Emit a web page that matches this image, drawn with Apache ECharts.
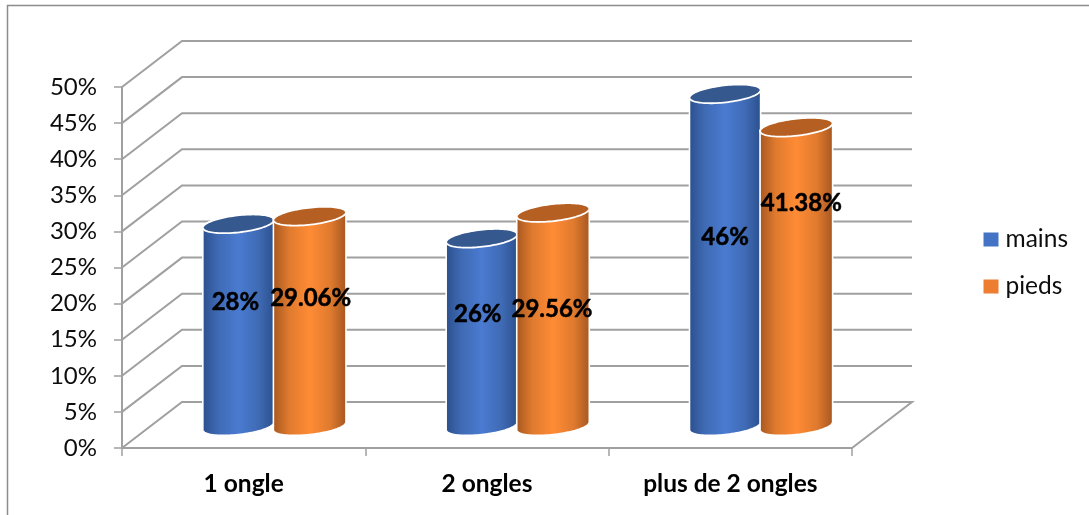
<!DOCTYPE html>
<html>
<head>
<meta charset="utf-8">
<style>html,body{margin:0;padding:0;background:#fff}#chart{width:1089px;height:515px}</style>
<script src="https://cdn.jsdelivr.net/npm/echarts@6/dist/echarts.min.js"></script>
</head>
<body>
<div id="chart"></div>
<script>
// Chart values
const categories = ['1 ongle', '2 ongles', 'plus de 2 ongles'];
const mains = [28, 26, 46];
const pieds = [29.06, 29.56, 41.38];
const yTicks = [0, 5, 10, 15, 20, 25, 30, 35, 40, 45, 50];

// Oblique projection of the chart box
const FONT = 'Lato';
const GRID_COLOR = '#a0a0a0';
const WALL_DX = 60, WALL_DY = 46;     // back wall offset
const FLOOR_DX = 30, FLOOR_DY = 22;   // cylinders stand mid-depth on the floor
const TILT = -6.5 * Math.PI / 180;    // rim ellipse rotation

// Hand placement of the value labels, per category: [dx, dy] from the cylinder axis,
// dy measured down from the cylinder top
const labelPlacement = {
  mains: [[-3, 78], [-4, 76], [0, 143]],
  pieds: [[1, 82], [-1, 97], [5, 76]]
};

const palette = {
  mains: { legend: '#4472c4', edge: '#2b4f8c', soft: '#3f6ab4', mid: '#4a7bd1', rim: '#35598f', halfWidth: 0.147, shift: -0.145 },
  pieds: { legend: '#ed7d31', edge: '#a55620', soft: '#df7a2e', mid: '#ff8b35', rim: '#b55f22', halfWidth: 0.15, shift: 0.148 }
};

function ellipsePoint(cx, cy, a, b, t) {
  const x = a * Math.cos(t), y = b * Math.sin(t);
  return [cx + x * Math.cos(TILT) - y * Math.sin(TILT),
          cy + x * Math.sin(TILT) + y * Math.cos(TILT)];
}

function renderWall(params, api) {
  const grid = params.coordSys;
  const y = api.coord([0, api.value(1)])[1];
  const left = grid.x, right = grid.x + grid.width;
  const points = [[left, y], [left + WALL_DX, y - WALL_DY], [right + WALL_DX, y - WALL_DY]];
  if (api.value(1) === 0) points.push([right, y]);
  return {
    type: 'polyline',
    shape: { points },
    style: { stroke: GRID_COLOR, lineWidth: 2, fill: null },
    silent: true
  };
}

function cylinderRenderer(name) {
  const colors = palette[name];
  return function (params, api) {
    const band = api.size([1, 0])[0];
    const idx = api.value(0), val = api.value(1);
    const base = api.coord([idx, 0]);
    const top = api.coord([idx, val]);
    const cx = base[0] + FLOOR_DX + colors.shift * band;
    const yBase = base[1] - FLOOR_DY, yTop = top[1] - FLOOR_DY;
    const a = band * colors.halfWidth, b = 8.5;

    // Silhouette: upper half of the top rim, then lower half of the base rim
    const t0 = Math.atan2(-b * Math.sin(TILT), a * Math.cos(TILT));
    const body = [], rim = [];
    const N = 48;
    for (let i = 0; i <= N; i++) {
      body.push(ellipsePoint(cx, yTop, a, b, t0 + Math.PI + Math.PI * i / N));
    }
    for (let i = 0; i <= N; i++) {
      body.push(ellipsePoint(cx, yBase, a, b, t0 + Math.PI * i / N));
    }
    for (let i = 0; i < 2 * N; i++) {
      rim.push(ellipsePoint(cx, yTop, a, b, Math.PI * i / N));
    }

    const place = labelPlacement[name][idx];
    return {
      type: 'group',
      children: [
        {
          type: 'polygon',
          shape: { points: body },
          style: {
            fill: new echarts.graphic.LinearGradient(0, 0, 1, 0, [
              { offset: 0, color: colors.edge },
              { offset: 0.22, color: colors.soft },
              { offset: 0.5, color: colors.mid },
              { offset: 0.78, color: colors.soft },
              { offset: 1, color: colors.edge }
            ]),
            stroke: '#ffffff', lineWidth: 1.6
          }
        },
        {
          type: 'polygon',
          shape: { points: rim },
          style: { fill: colors.rim, stroke: '#ffffff', lineWidth: 1.8 }
        },
        {
          type: 'text',
          z2: 10,
          style: {
            x: cx + place[0], y: yTop + place[1],
            text: val + '%',
            align: 'center', verticalAlign: 'middle',
            font: 'bold 24px ' + FONT, fill: '#000000',
            stroke: '#000000', lineWidth: 0.5
          }
        }
      ]
    };
  };
}

const chart = echarts.init(document.getElementById('chart'), null, { renderer: 'canvas' });
chart.setOption({
  animation: false,
  backgroundColor: '#ffffff',
  textStyle: { fontFamily: FONT },
  // Outer chart frame (open on the right and bottom)
  graphic: [{
    type: 'polyline',
    shape: { points: [[7.5, 515], [7.5, 5.5], [1089, 5.5]] },
    style: { stroke: '#8c8c8c', lineWidth: 1.5, fill: null },
    silent: true
  }],
  grid: { left: 122, right: 237, top: 87, bottom: 67 },
  legend: {
    data: ['mains', 'pieds'],
    orient: 'vertical',
    left: 978.5, top: 222,
    itemWidth: 15, itemHeight: 14, itemGap: 22,
    icon: 'rect',
    textStyle: { fontFamily: FONT, fontSize: 24.5, color: '#0d0d0d', padding: [0, 0, 0, 2] },
    selectedMode: false
  },
  xAxis: {
    type: 'category',
    data: categories,
    boundaryGap: true,
    axisLine: { lineStyle: { color: GRID_COLOR, width: 2 } },
    axisTick: { show: true, alignWithLabel: false, length: 8, lineStyle: { color: GRID_COLOR, width: 1.5 } },
    axisLabel: { margin: 24, fontFamily: FONT, fontWeight: 'bold', fontSize: 24.5, color: '#000000' }
  },
  yAxis: {
    type: 'value',
    min: 0, max: 50, interval: 5,
    splitLine: { show: false },
    axisLine: { show: true, lineStyle: { color: GRID_COLOR, width: 2 } },
    axisTick: { show: true, length: 8, lineStyle: { color: GRID_COLOR, width: 1.5 } },
    axisLabel: { margin: 25, padding: [6, 0, 0, 0], formatter: '{value}%', fontFamily: FONT, fontSize: 24, color: '#0d0d0d' }
  },
  series: [
    {
      type: 'custom', name: 'wall', silent: true, clip: false, z: 1,
      renderItem: renderWall,
      encode: { x: 0, y: 1 },
      data: yTicks.map(v => [0, v])
    },
    {
      type: 'custom', name: 'mains', clip: false, z: 3,
      renderItem: cylinderRenderer('mains'),
      itemStyle: { color: palette.mains.legend },
      encode: { x: 0, y: 1 },
      data: mains.map((v, i) => [i, v])
    },
    {
      type: 'custom', name: 'pieds', clip: false, z: 4,
      renderItem: cylinderRenderer('pieds'),
      itemStyle: { color: palette.pieds.legend },
      encode: { x: 0, y: 1 },
      data: pieds.map((v, i) => [i, v])
    }
  ]
});
</script>
</body>
</html>
